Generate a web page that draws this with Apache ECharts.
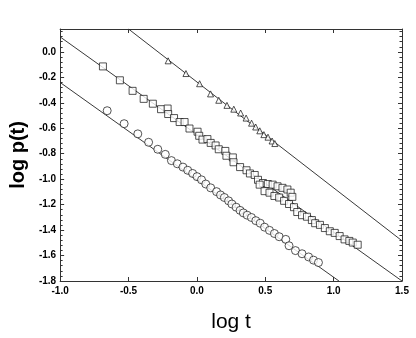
<!DOCTYPE html>
<html>
<head>
<meta charset="utf-8">
<script src="https://cdn.jsdelivr.net/npm/echarts@6/dist/echarts.min.js"></script>
<style>
  html, body { margin: 0; padding: 0; background: #fff; }
  #chart { width: 416px; height: 338px; }
</style>
</head>
<body>
<div id="chart"></div>
<script>
// triangles (upper set)
var triX = [-0.21, -0.08, 0.02, 0.10, 0.16, 0.22, 0.27, 0.32, 0.36, 0.40, 0.43, 0.46, 0.49, 0.52, 0.55, 0.57];
var triY = [-0.07, -0.17, -0.25, -0.33, -0.38, -0.42, -0.45, -0.48, -0.52, -0.56, -0.59, -0.62, -0.65, -0.67, -0.70, -0.72];

// squares (middle set)
var sqX = [-0.687, -0.563, -0.470, -0.389, -0.322, -0.262, -0.214, -0.210, -0.167, -0.126, -0.090, -0.054, 0.005, 0.017, 0.041,
  0.077, 0.101, 0.137, 0.160, 0.208, 0.216, 0.263, 0.268, 0.316, 0.363, 0.388, 0.423, 0.447, 0.483, 0.519, 0.554, 0.590,
  0.626, 0.662, 0.686, 0.698,
  0.459, 0.495, 0.531, 0.567, 0.602, 0.638, 0.674, 0.710, 0.734, 0.769, 0.805, 0.841, 0.865, 0.900, 0.936, 0.972, 1.008,
  1.044, 1.080, 1.115, 1.140, 1.176];
var sqY = [-0.114, -0.223, -0.306, -0.369, -0.407, -0.450, -0.445, -0.488, -0.520, -0.551, -0.551, -0.602, -0.627, -0.659, -0.689,
  -0.685, -0.715, -0.735, -0.765, -0.778, -0.816, -0.829, -0.867, -0.905, -0.930, -0.955, -0.967, -1.005, -1.030, -1.038, -1.043, -1.056,
  -1.068, -1.081, -1.106, -1.139,
  -1.043, -1.094, -1.106, -1.132, -1.144, -1.170, -1.195, -1.220, -1.258, -1.283, -1.295, -1.321, -1.346, -1.359, -1.384, -1.409, -1.422,
  -1.447, -1.473, -1.485, -1.498, -1.515];

// circles (lower set)
var cirX = [-0.656, -0.532, -0.432, -0.353, -0.286, -0.231, -0.186, -0.143, -0.102, -0.067, -0.031, 0.001, 0.034, 0.065, 0.101,
  0.144, 0.173, 0.201, 0.232, 0.256, 0.287, 0.316, 0.340, 0.368, 0.399, 0.431, 0.463, 0.495, 0.531, 0.567, 0.602, 0.650,
  0.674, 0.721, 0.769, 0.817, 0.853, 0.889];
var cirY = [-0.462, -0.564, -0.644, -0.710, -0.765, -0.805, -0.854, -0.879, -0.905, -0.930, -0.955, -0.980, -1.005, -1.038, -1.068,
  -1.098, -1.124, -1.144, -1.170, -1.195, -1.220, -1.245, -1.265, -1.283, -1.301, -1.326, -1.346, -1.377, -1.402, -1.427, -1.452, -1.473,
  -1.523, -1.561, -1.586, -1.611, -1.636, -1.655];

// fitted straight lines (end points)
var fitTri = [[-0.5, 0.18], [1.5, -1.484]];
var fitSq = [[-1.0, 0.118], [1.5, -1.8]];
var fitCir = [[-1.0, -0.24], [1.039, -1.8]];

function pairs(xs, ys) {
  var arr = [];
  for (var i = 0; i < xs.length; i++) arr.push([xs[i], ys[i]]);
  return arr;
}

var font = 'Liberation Sans, Arial, Helvetica, sans-serif';
var axisLine = { show: true, onZero: false, lineStyle: { color: '#333', width: 1 } };

function xAx(pos, labels) {
  return {
    type: 'value', position: pos, min: -1.0, max: 1.5, interval: 0.5,
    axisLine: axisLine,
    axisTick: { show: true, inside: true, length: 4, lineStyle: { color: '#333' } },
    splitLine: { show: false },
    axisLabel: {
      show: labels, color: '#000', fontFamily: font, fontWeight: 'bold', fontSize: 10, margin: 5,
      formatter: function (v) { return v.toFixed(1); }
    },
    name: labels ? 'log t' : '', nameLocation: 'middle', nameGap: 31,
    nameTextStyle: { fontFamily: font, fontSize: 21, color: '#000' }
  };
}

function yAx(pos, labels) {
  return {
    type: 'value', position: pos, min: -1.8, max: 0.18, interval: 0.2,
    axisLine: axisLine,
    axisTick: { show: true, inside: true, length: 4, lineStyle: { color: '#333' } },
    minorTick: { show: true, splitNumber: 5, length: 2.5, lineStyle: { color: '#333' } },
    splitLine: { show: false },
    minorSplitLine: { show: false },
    axisLabel: {
      show: labels, color: '#000', fontFamily: font, fontWeight: 'bold', fontSize: 10, margin: 4,
      showMaxLabel: false,
      formatter: function (v) { return v.toFixed(1); }
    },
    name: labels ? 'log p(t)' : '', nameLocation: 'middle', nameGap: 29,
    nameTextStyle: { fontFamily: font, fontSize: 20, fontWeight: 'bold', color: '#000' }
  };
}

function fit(data) {
  return {
    type: 'line', data: data, symbol: 'none', silent: true,
    lineStyle: { color: '#222', width: 0.9 }, z: 1
  };
}

function marks(data, symbol, size) {
  return {
    type: 'scatter', data: data, symbol: symbol, symbolSize: size,
    itemStyle: { color: '#fff', borderColor: '#111', borderWidth: 0.9 }, z: 2
  };
}

var chart = echarts.init(document.getElementById('chart'));
chart.setOption({
  animation: false,
  grid: { left: 53, right: 14, top: 29, bottom: 48 },
  xAxis: [xAx('bottom', true), xAx('top', false)],
  yAxis: [yAx('left', true), yAx('right', false)],
  series: [
    fit(fitTri), fit(fitSq), fit(fitCir),
    marks(pairs(triX, triY), 'triangle', 6),
    marks(pairs(sqX, sqY), 'rect', 7),
    marks(pairs(cirX, cirY), 'circle', 8)
  ]
});
</script>
</body>
</html>
